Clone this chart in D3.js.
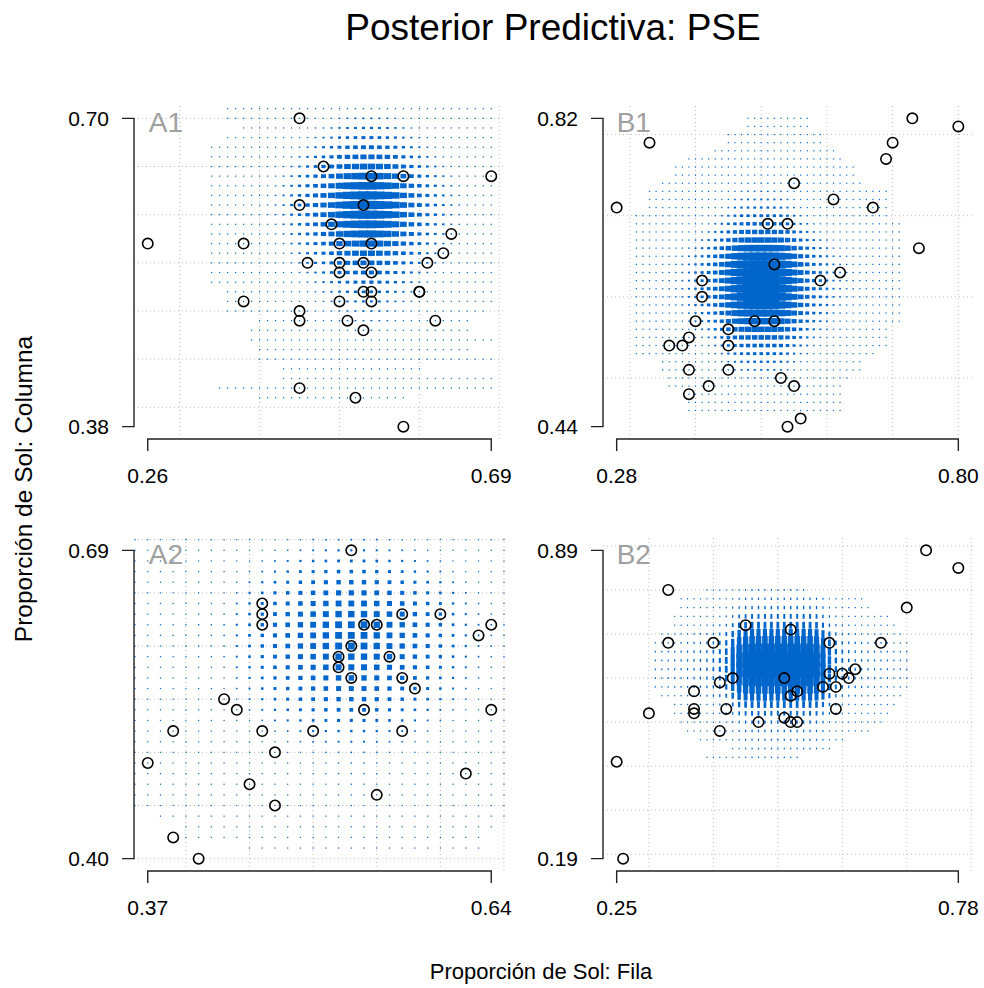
<!DOCTYPE html>
<html><head><meta charset="utf-8">
<script src="https://cdn.jsdelivr.net/npm/d3@7"></script>
<style>body{margin:0;background:#fff}svg{display:block}text{font-family:"Liberation Sans",Arial,Helvetica,sans-serif}</style>
</head><body><svg id="c" width="984" height="988"></svg>
<script>
// ---------- data ----------
const titleText = "Posterior Predictiva: PSE";
const xTitle = "Proporción de Sol: Fila";
const yTitle = "Proporción de Sol: Columna";
const panelLabels = ["A1","B1","A2","B2"];

// observed points
const a1X = [0.45,0.48,0.54,0.58,0.69,0.45,0.53,0.49,0.26,0.38,0.50,0.54,0.64,0.63,0.46,0.50,0.53,0.61,0.50,0.54,0.53,0.54,0.60,0.60,0.38,0.50,0.54,0.45,0.45,0.51,0.62,0.53,0.45,0.52,0.58];
const a1Y = [0.70,0.65,0.64,0.64,0.64,0.61,0.61,0.59,0.57,0.57,0.57,0.57,0.58,0.56,0.55,0.55,0.55,0.55,0.54,0.54,0.52,0.52,0.52,0.52,0.51,0.51,0.51,0.50,0.49,0.49,0.49,0.48,0.42,0.41,0.38];
const b1X = [0.73,0.80,0.33,0.70,0.69,0.55,0.61,0.28,0.67,0.51,0.54,0.74,0.52,0.62,0.41,0.59,0.41,0.40,0.49,0.52,0.45,0.39,0.36,0.38,0.45,0.39,0.45,0.53,0.42,0.55,0.39,0.56,0.54];
const b1Y = [0.82,0.81,0.79,0.79,0.77,0.74,0.72,0.71,0.71,0.69,0.69,0.66,0.64,0.63,0.62,0.62,0.60,0.57,0.57,0.57,0.56,0.55,0.54,0.54,0.54,0.51,0.51,0.50,0.49,0.49,0.48,0.45,0.44];
const a2X = [0.53,0.46,0.46,0.46,0.57,0.60,0.54,0.55,0.64,0.63,0.53,0.52,0.56,0.52,0.53,0.57,0.58,0.43,0.44,0.54,0.64,0.39,0.46,0.50,0.57,0.47,0.37,0.62,0.45,0.55,0.47,0.39,0.41];
const a2Y = [0.69,0.64,0.63,0.62,0.63,0.63,0.62,0.62,0.62,0.61,0.60,0.59,0.59,0.58,0.57,0.57,0.56,0.55,0.54,0.54,0.54,0.52,0.52,0.52,0.52,0.50,0.49,0.48,0.47,0.46,0.45,0.42,0.40];
const b2X = [0.73,0.78,0.33,0.70,0.45,0.52,0.33,0.40,0.58,0.66,0.62,0.58,0.60,0.61,0.43,0.51,0.41,0.57,0.59,0.37,0.53,0.52,0.37,0.37,0.42,0.59,0.30,0.47,0.51,0.52,0.53,0.41,0.25,0.26];
const b2Y = [0.89,0.85,0.80,0.76,0.72,0.71,0.68,0.68,0.68,0.68,0.62,0.61,0.61,0.60,0.60,0.60,0.59,0.58,0.58,0.57,0.57,0.56,0.53,0.52,0.53,0.53,0.52,0.50,0.51,0.50,0.50,0.48,0.41,0.19];

// axis tick labels (data min / max)
const a1XTicks = [0.26,0.69], a1YTicks = [0.38,0.70];
const b1XTicks = [0.28,0.80], b1YTicks = [0.44,0.82];
const a2XTicks = [0.37,0.64], a2YTicks = [0.40,0.69];
const b2XTicks = [0.25,0.78], b2YTicks = [0.19,0.89];

// reference grid values
const a1GridX = [0.3,0.4,0.5,0.6,0.7], a1GridY = [0.40,0.45,0.50,0.55,0.60,0.65,0.70];
const b1GridX = [0.3,0.4,0.5,0.6,0.7,0.8], b1GridY = [0.5,0.6,0.7,0.8];
const a2GridX = [0.40,0.45,0.50,0.55,0.60,0.65], a2GridY = [0.40,0.45,0.50,0.55,0.60,0.65,0.70];
const b2GridX = [0.3,0.4,0.5,0.6,0.7,0.8], b2GridY = [0.2,0.3,0.4,0.5,0.6,0.7,0.8,0.9];

// posterior predictive density: grid start/step, relative size profiles (x, y),
// and per-row x extent [min,max] of the predictive cells
const a1DensX0 = 0.33, a1DensXStep = 0.01;
const a1DensProfX = [0.05,0.06,0.07,0.08,0.08,0.09,0.10,0.11,0.13,0.16,0.20,0.26,0.32,0.40,0.48,0.57,0.66,0.78,0.88,0.95,1,1,0.95,0.88,0.78,0.66,0.55,0.45,0.37,0.30,0.24,0.19,0.15,0.12,0.10,0.09,0.08,0.06];
const a1DensY0 = 0.41, a1DensYStep = 0.01;
const a1DensProfY = [0.06,0.07,0.08,0.09,0.10,0.11,0.12,0.14,0.17,0.20,0.25,0.31,0.38,0.46,0.55,0.64,0.74,0.84,0.92,0.98,1,0.97,0.90,0.80,0.68,0.56,0.45,0.35,0.27,0.20,0.14];
const a1DensRange = [[0.40,0.58],[0.35,0.69],[0.43,0.69],[0.43,0.60],[0.40,0.69],[0.40,0.66],[0.39,0.69],[0.39,0.66],[0.40,0.66],[0.36,0.68],[0.36,0.69],[0.36,0.69],
  [0.34,0.69],[0.34,0.69],[0.34,0.69],[0.34,0.69],[0.34,0.69],[0.34,0.69],[0.34,0.69],[0.34,0.69],[0.34,0.69],[0.34,0.69],[0.34,0.69],[0.34,0.69],[0.34,0.69],[0.34,0.69],[0.34,0.69],
  [0.36,0.69],[0.38,0.69],[0.36,0.69],[0.36,0.69]];

const b1DensX0 = 0.30, b1DensXStep = 0.01;
const b1DensProfX = [0.09,0.10,0.10,0.11,0.12,0.13,0.14,0.15,0.17,0.20,0.25,0.30,0.36,0.45,0.55,0.68,0.82,0.92,0.98,1,1,1,0.98,0.92,0.82,0.68,0.55,0.45,0.36,0.30,0.25,0.20,0.17,0.15,0.14,0.13,0.12,0.11,0.10,0.10,0.10,0.09];
const b1DensY0 = 0.46, b1DensYStep = 0.01;
const b1DensProfY = [0.08,0.09,0.10,0.12,0.15,0.20,0.26,0.33,0.42,0.52,0.62,0.72,0.82,0.92,0.98,1,1,1,0.96,0.88,0.76,0.62,0.50,0.40,0.32,0.25,0.20,0.16,0.14,0.12,0.11,0.10,0.10,0.09,0.09,0.09,0.09];
const b1DensRange = [[0.39,0.62],[0.39,0.62],[0.39,0.62],[0.36,0.62],[0.36,0.63],[0.35,0.65],[0.35,0.65],[0.31,0.67],[0.31,0.69],[0.31,0.69],[0.31,0.69],
  [0.31,0.71],[0.31,0.71],[0.31,0.71],[0.31,0.71],[0.31,0.71],[0.31,0.71],[0.31,0.71],[0.31,0.71],[0.31,0.71],[0.31,0.71],[0.31,0.71],[0.31,0.71],[0.31,0.71],
  [0.31,0.69],[0.33,0.69],[0.33,0.69],[0.33,0.69],[0.35,0.65],[0.37,0.64],[0.37,0.64],[0.39,0.62],[0.43,0.61],[0.45,0.59],[0.45,0.59],[0.48,0.57],[0.48,0.57]];

const a2DensX0 = 0.36, a2DensXStep = 0.01;
const a2DensProfX = [0.18,0.18,0.18,0.19,0.19,0.20,0.20,0.22,0.30,0.40,0.50,0.60,0.68,0.78,0.86,0.93,1,1,1,0.93,0.86,0.78,0.68,0.60,0.50,0.40,0.32,0.26,0.22,0.20];
const a2DensY0 = 0.41, a2DensYStep = 0.01;
const a2DensProfY = [0.18,0.18,0.18,0.18,0.18,0.19,0.19,0.20,0.20,0.22,0.28,0.35,0.45,0.55,0.65,0.73,0.80,0.88,0.94,1,1,1,0.94,0.86,0.76,0.65,0.52,0.42,0.32,0.25];
const a2DensRange = [[0.45,0.63],[0.40,0.63],[0.40,0.64],[0.38,0.65],[0.36,0.65],[0.36,0.65],[0.36,0.65],[0.36,0.65],[0.36,0.65],[0.36,0.65],[0.36,0.65],[0.36,0.65],[0.36,0.65],[0.36,0.65],[0.36,0.65],
  [0.36,0.65],[0.36,0.65],[0.36,0.65],[0.36,0.65],[0.36,0.65],[0.36,0.65],[0.36,0.65],[0.36,0.65],[0.36,0.65],[0.36,0.65],[0.36,0.65],[0.36,0.65],[0.36,0.65],[0.36,0.65],[0.36,0.65]];

const b2DensX0 = 0.30, b2DensXStep = 0.01;
const b2DensProfX = [0.09,0.10,0.10,0.11,0.12,0.13,0.14,0.16,0.18,0.20,0.24,0.30,0.40,0.60,0.82,0.95,1,1,1,1,1,1,1,1,1,1,0.95,0.75,0.50,0.34,0.26,0.21,0.18,0.16,0.14,0.13,0.12,0.11,0.10,0.10,0.10,0.09];
const b2DensY0 = 0.42, b2DensYStep = 0.02;
const b2DensProfY = [0.09,0.10,0.12,0.15,0.20,0.28,0.40,0.60,0.80,0.95,1,1,0.95,0.80,0.60,0.40,0.28,0.20,0.14,0.10];
const b2DensRange = [[0.39,0.53],[0.43,0.58],[0.38,0.60],[0.36,0.64],[0.35,0.66],[0.34,0.67],[0.34,0.68],[0.32,0.69],[0.31,0.70],[0.31,0.70],[0.31,0.70],
  [0.31,0.70],[0.31,0.70],[0.31,0.70],[0.32,0.69],[0.34,0.68],[0.34,0.67],[0.35,0.64],[0.35,0.63],[0.39,0.54]];

// ---------- layout / style ----------
const panels = [
  {label:panelLabels[0], xs:a1X, ys:a1Y, xt:a1XTicks, yt:a1YTicks, gx:a1GridX, gy:a1GridY,
   d:{x0:a1DensX0, dx:a1DensXStep, px:a1DensProfX, y0:a1DensY0, dy:a1DensYStep, py:a1DensProfY, rng:a1DensRange, maxW:11, maxH:8.5},
   box:[134,505,106,439]},
  {label:panelLabels[1], xs:b1X, ys:b1Y, xt:b1XTicks, yt:b1YTicks, gx:b1GridX, gy:b1GridY,
   d:{x0:b1DensX0, dx:b1DensXStep, px:b1DensProfX, y0:b1DensY0, dy:b1DensYStep, py:b1DensProfY, rng:b1DensRange, maxW:10.5, maxH:8.8},
   box:[603,972,106,439]},
  {label:panelLabels[2], xs:a2X, ys:a2Y, xt:a2XTicks, yt:a2YTicks, gx:a2GridX, gy:a2GridY,
   d:{x0:a2DensX0, dx:a2DensXStep, px:a2DensProfX, y0:a2DensY0, dy:a2DensYStep, py:a2DensProfY, rng:a2DensRange, maxW:6.8, maxH:6.8},
   box:[134,505,538,871]},
  {label:panelLabels[3], xs:b2X, ys:b2Y, xt:b2XTicks, yt:b2YTicks, gx:b2GridX, gy:b2GridY,
   d:{x0:b2DensX0, dx:b2DensXStep, px:b2DensProfX, y0:b2DensY0, dy:b2DensYStep, py:b2DensProfY, rng:b2DensRange, maxW:7, maxH:17},
   box:[603,972,538,871]}
];
const blue = "#0066CC";
const svg = d3.select("#c");

svg.append("text").attr("x",553).attr("y",40).attr("text-anchor","middle")
  .attr("font-size",37).attr("fill","#000").text(titleText);
svg.append("text").attr("x",541).attr("y",979).attr("text-anchor","middle")
  .attr("font-size",22).attr("fill","#000").text(xTitle);
svg.append("text").attr("transform","translate(32,489) rotate(-90)").attr("text-anchor","middle")
  .attr("font-size",24.5).attr("fill","#000").text(yTitle);

panels.forEach(p=>{
  const [L,R,T,B] = p.box;
  const xr = p.xt[1]-p.xt[0], yr = p.yt[1]-p.yt[0];
  const x = d3.scaleLinear().domain([p.xt[0]-0.04*xr, p.xt[1]+0.04*xr]).range([L,R]);
  const y = d3.scaleLinear().domain([p.yt[0]-0.04*yr, p.yt[1]+0.04*yr]).range([B,T]);
  const g = svg.append("g");
  // grid
  g.selectAll(".gx").data(p.gx.filter(v=>x(v)>=L-0.5&&x(v)<=R+0.5)).enter().append("line")
    .attr("x1",d=>x(d)).attr("x2",d=>x(d)).attr("y1",T).attr("y2",B)
    .attr("stroke","#BEBEBE").attr("stroke-width",1).attr("stroke-dasharray","1,3");
  g.selectAll(".gy").data(p.gy.filter(v=>y(v)>=T-0.5&&y(v)<=B+0.5)).enter().append("line")
    .attr("y1",d=>y(d)).attr("y2",d=>y(d)).attr("x1",L).attr("x2",R)
    .attr("stroke","#BEBEBE").attr("stroke-width",1).attr("stroke-dasharray","1,3");
  // density cells
  const cells = [];
  p.d.py.forEach((sy,j)=>{
    const cy = p.d.y0 + j*p.d.dy;
    const [lo,hi] = p.d.rng[j];
    p.d.px.forEach((sx,i)=>{
      const cx = p.d.x0 + i*p.d.dx;
      if (cx < lo-1e-6 || cx > hi+1e-6) return;
      cells.push({cx, cy, f:sx*sy});
    });
  });
  const minS = 1.2;
  g.selectAll(".cell").data(cells).enter().append("rect")
    .attr("x",d=>x(d.cx)-Math.max(minS,p.d.maxW*d.f)/2)
    .attr("y",d=>y(d.cy)-Math.max(minS,p.d.maxH*d.f)/2)
    .attr("width",d=>Math.max(minS,p.d.maxW*d.f))
    .attr("height",d=>Math.max(minS,p.d.maxH*d.f))
    .attr("fill",blue);
  // points
  g.selectAll(".pt").data(p.xs.map((v,i)=>[v,p.ys[i]])).enter().append("circle")
    .attr("cx",d=>x(d[0])).attr("cy",d=>y(d[1])).attr("r",5.2)
    .attr("fill","none").attr("stroke","#000").attr("stroke-width",1.6);
  // axes
  const ax = g.append("g").attr("stroke","#222").attr("stroke-width",1.4).attr("fill","none");
  ax.append("path").attr("d",`M${L-12},${y(p.yt[0])}H${L}V${y(p.yt[1])}H${L-12}`);
  ax.append("path").attr("d",`M${x(p.xt[0])},${B+12}V${B}H${x(p.xt[1])}V${B+12}`);
  p.yt.forEach(v=>g.append("text").attr("x",L-25).attr("y",y(v)).attr("dy","0.36em")
    .attr("text-anchor","end").attr("font-size",21).attr("fill","#000").text(d3.format(".2f")(v)));
  p.xt.forEach(v=>g.append("text").attr("x",x(v)).attr("y",B+44)
    .attr("text-anchor","middle").attr("font-size",21).attr("fill","#000").text(d3.format(".2f")(v)));
  g.append("text").attr("x",x(p.xt[0])+ (L<300?1:0)).attr("y",y(p.yt[1])+14)
    .attr("font-size",28).attr("fill","#A0A0A0").text(p.label);
});
</script></body></html>
